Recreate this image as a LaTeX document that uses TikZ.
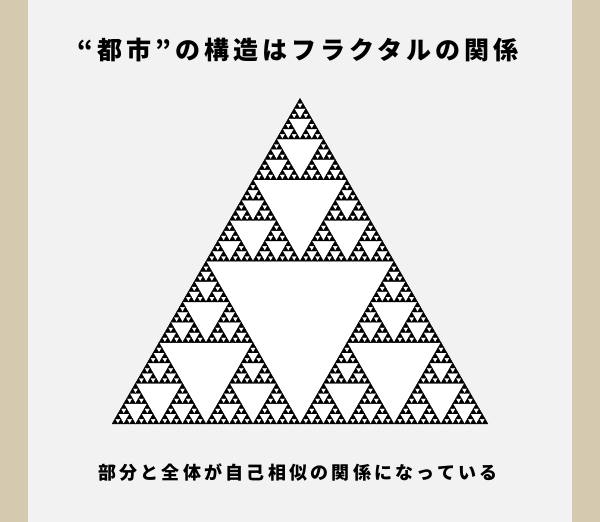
\documentclass[tikz,border=0pt]{standalone}
\usepackage{fontspec}
\newfontfamily\jp{Noto Sans CJK JP}
\definecolor{bgc}{HTML}{F2F2F2}
\definecolor{bandc}{HTML}{D5CAB0}
\newcommand\sierpfig[4]{% level, x, y, side
  \ifnum#1=0\relax
    \filldraw[black, line width=0.35pt, line join=miter] (#2,#3) -- ({#2+#4},#3) -- ({#2+0.5*#4},{#3+0.8660254*#4}) -- cycle;
  \else
    \begingroup
    \pgfmathsetmacro\hs{#4/2}%
    \pgfmathsetmacro\xm{#2+\hs}%
    \pgfmathsetmacro\xq{#2+\hs/2}%
    \pgfmathsetmacro\ym{#3+0.8660254*\hs}%
    \pgfmathtruncatemacro\lv{#1-1}%
    \edef\next{\noexpand\sierpfig{\lv}{#2}{#3}{\hs}\noexpand\sierpfig{\lv}{\xm}{#3}{\hs}\noexpand\sierpfig{\lv}{\xq}{\ym}{\hs}}%
    \next
    \endgroup
  \fi}
\tikzset{
  titletext/.style={font=\jp\bfseries\fontsize{25}{30}\selectfont\addfontfeature{LetterSpace=16}, text=black, inner sep=0pt},
  captext/.style={font=\jp\bfseries\fontsize{18}{22}\selectfont\addfontfeature{LetterSpace=18}, text=black, inner sep=0pt}
}
\begin{document}
\begin{tikzpicture}[x=1pt,y=1pt]
\useasboundingbox (0,0) rectangle (600,522);
\fill[bgc] (0,0) rectangle (600,522);
\fill[bandc] (0,0) rectangle (28,522);
\fill[bandc] (572,0) rectangle (600,522);
\fill[white] (112,98) -- (488,98) -- (300,{98+0.8660254*376}) -- cycle;
\sierpfig{6}{112}{98}{376}
\node[titletext] (title) at (298,472) {“都市”の構造はフラクタルの関係};
\node[captext] (caption) at (298,49) {部分と全体が自己相似の関係になっている};
\end{tikzpicture}
\end{document}
